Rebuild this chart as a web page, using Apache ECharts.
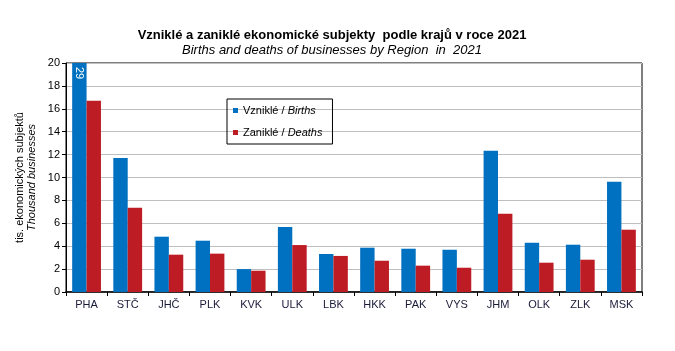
<!DOCTYPE html>
<html lang="cs">
<head>
    <meta charset="UTF-8">
    <title>Vzniklé a zaniklé ekonomické subjekty</title>
    <style>
        body { margin: 0; background: #fff; }
    </style>
</head>
<body>
<div id="main" style="width: 675px;height:351px;"></div>
<script src="https://cdn.jsdelivr.net/npm/echarts@6/dist/echarts.min.js"></script>
<script type="text/javascript">
    // kraje
    var regions = ['PHA', 'STČ', 'JHČ', 'PLK', 'KVK', 'ULK', 'LBK', 'HKK', 'PAK', 'VYS', 'JHM', 'OLK', 'ZLK', 'MSK'];
    // tis. subjektů
    var births = [29, 11.7, 4.83, 4.48, 2.0, 5.68, 3.32, 3.87, 3.78, 3.69, 12.34, 4.3, 4.13, 9.63];
    var deaths = [16.7, 7.36, 3.26, 3.35, 1.86, 4.1, 3.15, 2.73, 2.3, 2.12, 6.84, 2.56, 2.82, 5.44];
    var yTicks = [0, 2, 4, 6, 8, 10, 12, 14, 16, 18, 20];

    var font = 'Liberation Sans, Arial, sans-serif';

    // PHA vybočuje z osy -> popisek hodnoty do sloupce
    var birthsData = births.map(function (v, i) {
        if (v > yTicks[yTicks.length - 1]) {
            return {
                value: v,
                label: {
                    show: true,
                    position: 'insideTop',
                    rotate: -90,
                    distance: 4,
                    color: '#fff',
                    fontSize: 11,
                    fontFamily: font,
                    align: 'left',
                    verticalAlign: 'middle'
                }
            };
        }
        return v;
    });

    var myChart = echarts.init(document.getElementById('main'));
    var option = {
        animation: false,
        title: {
            text: 'Vzniklé a zaniklé ekonomické subjekty  podle krajů v roce 2021',
            subtext: 'Births and deaths of businesses by Region  in  2021',
            left: 327,
            textAlign: 'center',
            top: 24,
            itemGap: 2,
            textStyle: { fontFamily: font, fontSize: 13, fontWeight: 'bold', color: '#000' },
            subtextStyle: { fontFamily: font, fontSize: 13, fontStyle: 'italic', color: '#000' }
        },
        legend: {
            orient: 'vertical',
            left: 227,
            top: 99,
            width: 108,
            padding: [6, 10, 6, 6],
            itemWidth: 5,
            itemHeight: 5,
            itemGap: 11,
            borderColor: '#000',
            borderWidth: 1,
            icon: 'rect',
            textStyle: {
                fontFamily: font, fontSize: 11, color: '#000',
                rich: {
                    n: { fontFamily: font, fontSize: 11, color: '#000' },
                    i: { fontFamily: font, fontSize: 11, color: '#000', fontStyle: 'italic' }
                }
            },
            formatter: function (name) {
                var p = name.split(' / ');
                return '{n|' + p[0] + ' / }{i|' + p[1] + '}';
            }
        },
        grid: {
            left: 66,
            right: 33,
            top: 63,
            bottom: 59,
            show: true,
            borderColor: '#000',
            borderWidth: 1
        },
        xAxis: {
            type: 'category',
            data: regions,
            axisLine: { lineStyle: { color: '#000', width: 1.5 } },
            axisTick: { show: true, length: 4, lineStyle: { color: '#000' } },
            axisLabel: { fontFamily: font, fontSize: 11, color: '#1a1a3a', margin: 7 }
        },
        yAxis: {
            type: 'value',
            min: 0,
            max: 20,
            interval: 2,
            name: '{a|tis. ekonomických subjektů}\n{b|Thousand businesses}',
            nameLocation: 'middle',
            nameGap: 28,
            nameMoveOverlap: false,
            nameTextStyle: {
                rich: {
                    a: { fontFamily: font, fontSize: 11, color: '#000', lineHeight: 12 },
                    b: { fontFamily: font, fontSize: 11, color: '#000', fontStyle: 'italic', lineHeight: 12 }
                }
            },
            axisLine: { show: true, lineStyle: { color: '#000' } },
            axisTick: { show: true, length: 4, lineStyle: { color: '#000' } },
            axisLabel: { fontFamily: font, fontSize: 11, color: '#000', margin: 6 },
            splitLine: { lineStyle: { color: '#bfbfbf', width: 1 } }
        },
        series: [
            {
                name: 'Vzniklé / Births',
                type: 'bar',
                data: birthsData,
                barGap: '0%',
                barCategoryGap: '30%',
                itemStyle: { color: '#0070c0' }
            },
            {
                name: 'Zaniklé / Deaths',
                type: 'bar',
                data: deaths,
                itemStyle: { color: '#be1c24' }
            }
        ]
    };
    myChart.setOption(option);
</script>
</body>
</html>
